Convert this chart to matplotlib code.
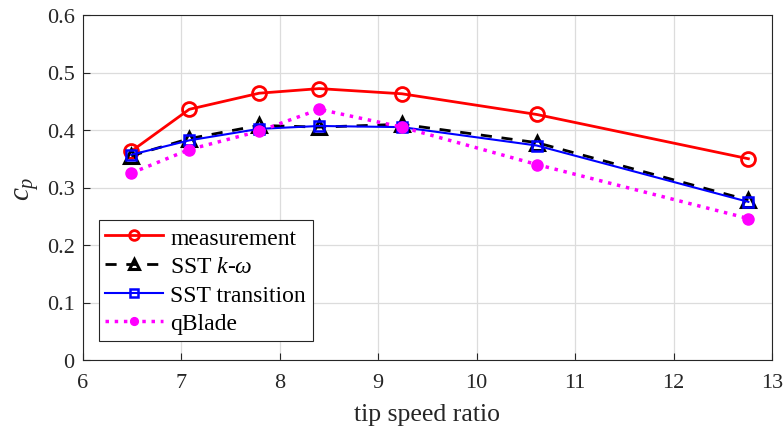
import matplotlib
matplotlib.use("Agg")
import matplotlib.pyplot as plt

plt.rcParams['font.family'] = ['Liberation Serif', 'DejaVu Serif']
plt.rcParams['mathtext.fontset'] = 'custom'
plt.rcParams['mathtext.rm'] = 'Liberation Serif'
plt.rcParams['mathtext.it'] = 'Liberation Serif:italic'

tsr = [6.49, 7.08, 7.79, 8.40, 9.24, 10.61, 12.76]
measurement = [0.363, 0.436, 0.464, 0.472, 0.463, 0.427, 0.350]
sst_kw = [0.355, 0.385, 0.408, 0.405, 0.410, 0.378, 0.278]
sst_trans = [0.357, 0.382, 0.402, 0.407, 0.405, 0.373, 0.275]
qblade = [0.325, 0.366, 0.398, 0.436, 0.405, 0.340, 0.246]

xticks = [6, 7, 8, 9, 10, 11, 12, 13]
yticks = [0, 0.1, 0.2, 0.3, 0.4, 0.5, 0.6]
ytick_labels = ['0', '0.1', '0.2', '0.3', '0.4', '0.5', '0.6']

fig = plt.figure(figsize=(7.83, 4.27), dpi=100)
# axes: x 83..772 px, y 16..361 px
ax = fig.add_axes([83/783, 1-361/427, (772-83)/783, (361-16)/427])

ax.plot(tsr, measurement, '-o', color='red', lw=2, ms=10, mfc='none', mew=2, label='measurement')
ax.plot(tsr, sst_kw, '--^', color='black', lw=2, ms=10, mfc='none', mew=2.2,
        dashes=(4, 3.5), label=r'SST $k$-$\omega$')
ax.plot(tsr, sst_trans, '-s', color='blue', lw=1.5, ms=7.5, mfc='none', mew=1.8, label='SST transition')
ax.plot(tsr, qblade, ':', color='magenta', lw=2.5, marker='o', ms=8, mfc='magenta', mec='magenta',
        label='qBlade')

ax.set_xlim(6, 13)
ax.set_ylim(0, 0.6)
ax.set_xticks(xticks)
ax.set_yticks(yticks)
ax.set_yticklabels(ytick_labels)
ax.grid(True, color='#dcdcdc', lw=0.9)
ax.set_axisbelow(True)
ax.tick_params(direction='in', labelsize=16, colors='#262626', length=5)
ax.tick_params(axis='x', pad=9)
ax.tick_params(axis='y', pad=6)
for s in ax.spines.values():
    s.set_color('#262626')
    s.set_linewidth(0.8)
ax.set_xlabel('tip speed ratio', fontsize=18.5, color='#262626', labelpad=8)
ax.set_ylabel(r'$c_p$', fontsize=21, color='#262626', labelpad=4)

leg = ax.legend(loc='lower left', bbox_to_anchor=(0.023, 0.055), fontsize=17, frameon=True,
                fancybox=False, edgecolor='#262626', framealpha=1, handlelength=2.45,
                borderpad=0.28, labelspacing=0.3, handletextpad=0.3, borderaxespad=0,
                markerscale=0.7)
leg.get_frame().set_linewidth(0.8)

fig.savefig('out.png', dpi=100)
